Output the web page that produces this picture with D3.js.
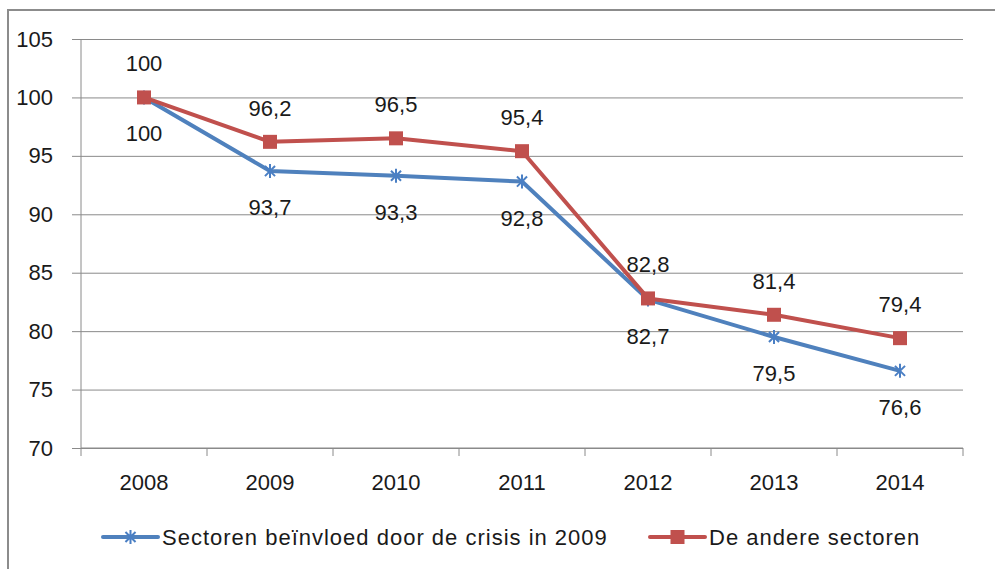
<!DOCTYPE html>
<html>
<head>
<meta charset="utf-8">
<script src="https://cdn.jsdelivr.net/npm/d3@7"></script>
<style>
  body { margin: 0; background: #fff; }
  svg text { font-family: "Liberation Sans", Arial, sans-serif; fill: #1a1a1a; }
</style>
</head>
<body>
<div id="chart"></div>
<script>
// Data
const years = ["2008", "2009", "2010", "2011", "2012", "2013", "2014"];
const crisisSectors = [100, 93.7, 93.3, 92.8, 82.7, 79.5, 76.6];
const otherSectors  = [100, 96.2, 96.5, 95.4, 82.8, 81.4, 79.4];
const yTicks = [70, 75, 80, 85, 90, 95, 100, 105];
const seriesNames = ["Sectoren beïnvloed door de crisis in 2009", "De andere sectoren"];

const W = 995, H = 569;
const plot = { left: 81, right: 963, top: 39, bottom: 448 };
const blue = "#4f81bd", red = "#c0504d", grid = "#8a8a8a";
const fs = "22px";

const svg = d3.select("#chart").append("svg")
    .attr("width", W)
    .attr("height", H);

// outer frame
svg.append("rect")
    .attr("x", 8).attr("y", 10)
    .attr("width", 1000).attr("height", 600)
    .attr("fill", "none")
    .attr("stroke", "#8c8c8c")
    .attr("stroke-width", 2);

const x = d3.scaleBand().domain(years).range([plot.left, plot.right]).padding(0);
const y = d3.scaleLinear().domain([70, 105]).range([plot.bottom, plot.top]);
const cx = d => x(d) + x.bandwidth() / 2;

// gridlines + y labels
const yAxis = d3.axisLeft(y).tickValues(yTicks).tickSize(plot.right - plot.left + 9);
svg.append("g")
    .attr("transform", `translate(${plot.right},0)`)
    .call(yAxis)
    .call(g => g.select(".domain").remove())
    .call(g => g.selectAll(".tick line").attr("stroke", grid).attr("stroke-width", 1))
    .call(g => g.selectAll(".tick text")
        .attr("x", -(plot.right - plot.left) - 28)
        .style("font-size", fs));

// y axis line
svg.append("line")
    .attr("x1", plot.left).attr("x2", plot.left)
    .attr("y1", plot.top).attr("y2", plot.bottom)
    .attr("stroke", grid);

// x axis with ticks at category boundaries
svg.append("line")
    .attr("x1", plot.left).attr("x2", plot.right)
    .attr("y1", plot.bottom).attr("y2", plot.bottom)
    .attr("stroke", grid);

const bounds = years.map(d => x(d)).concat([plot.right]);
svg.selectAll(".xtick")
    .data(bounds)
    .join("line")
    .attr("class", "xtick")
    .attr("x1", d => d).attr("x2", d => d)
    .attr("y1", plot.bottom).attr("y2", plot.bottom + 8)
    .attr("stroke", grid);

svg.selectAll(".xlabel")
    .data(years)
    .join("text")
    .attr("class", "xlabel")
    .attr("x", d => cx(d))
    .attr("y", 490)
    .attr("text-anchor", "middle")
    .style("font-size", fs)
    .text(d => d);

// lines
const line = d3.line()
    .x((d, i) => cx(years[i]))
    .y(d => y(d));

svg.append("path")
    .datum(crisisSectors)
    .attr("fill", "none")
    .attr("stroke", blue)
    .attr("stroke-width", 4)
    .attr("stroke-linejoin", "round")
    .attr("d", line);

svg.append("path")
    .datum(otherSectors)
    .attr("fill", "none")
    .attr("stroke", red)
    .attr("stroke-width", 4)
    .attr("stroke-linejoin", "round")
    .attr("d", line);

// markers
function starPath(r) {
  const k = r * 0.72;
  return `M0,${-r}L0,${r}M${-k},${-k}L${k},${k}M${-k},${k}L${k},${-k}`;
}

svg.selectAll(".star")
    .data(crisisSectors)
    .join("path")
    .attr("class", "star")
    .attr("transform", (d, i) => `translate(${cx(years[i])},${y(d)})`)
    .attr("d", starPath(7))
    .attr("stroke", "#4a7fc4")
    .attr("stroke-width", 2)
    .attr("fill", "none");

svg.selectAll(".sq")
    .data(otherSectors)
    .join("rect")
    .attr("class", "sq")
    .attr("x", (d, i) => cx(years[i]) - 7)
    .attr("y", d => y(d) - 7)
    .attr("width", 14).attr("height", 14)
    .attr("fill", red);

// data labels
const fmt = v => String(v).replace(".", ",");

svg.selectAll(".lblBlue")
    .data(crisisSectors)
    .join("text")
    .attr("class", "lblBlue")
    .attr("x", (d, i) => cx(years[i]))
    .attr("y", d => y(d) + 36 + 8)
    .attr("text-anchor", "middle")
    .style("font-size", fs)
    .text(fmt);

svg.selectAll(".lblRed")
    .data(otherSectors)
    .join("text")
    .attr("class", "lblRed")
    .attr("x", (d, i) => cx(years[i]))
    .attr("y", d => y(d) - 34 + 8)
    .attr("text-anchor", "middle")
    .style("font-size", fs)
    .text(fmt);

// legend
const legend = svg.append("g").attr("class", "legend");
const items = [
  { name: seriesNames[0], color: blue, x0: 103 },
  { name: seriesNames[1], color: red, x0: 650 }
];
const ly = 537;

items.forEach((it, i) => {
  legend.append("line")
      .attr("x1", it.x0).attr("x2", it.x0 + 55)
      .attr("y1", ly).attr("y2", ly)
      .attr("stroke", it.color)
      .attr("stroke-width", 4)
      .attr("stroke-linecap", "round");
  if (i === 0) {
    legend.append("path")
        .attr("transform", `translate(${it.x0 + 27.5},${ly})`)
        .attr("d", starPath(7))
        .attr("stroke", "#4a7fc4")
        .attr("stroke-width", 2)
        .attr("fill", "none");
  } else {
    legend.append("rect")
        .attr("x", it.x0 + 27.5 - 7).attr("y", ly - 7)
        .attr("width", 14).attr("height", 14)
        .attr("fill", it.color);
  }
  legend.append("text")
      .attr("x", it.x0 + 59)
      .attr("y", ly + 8)
      .style("font-size", fs)
      .style("letter-spacing", "1px")
      .text(it.name);
});
</script>
</body>
</html>
